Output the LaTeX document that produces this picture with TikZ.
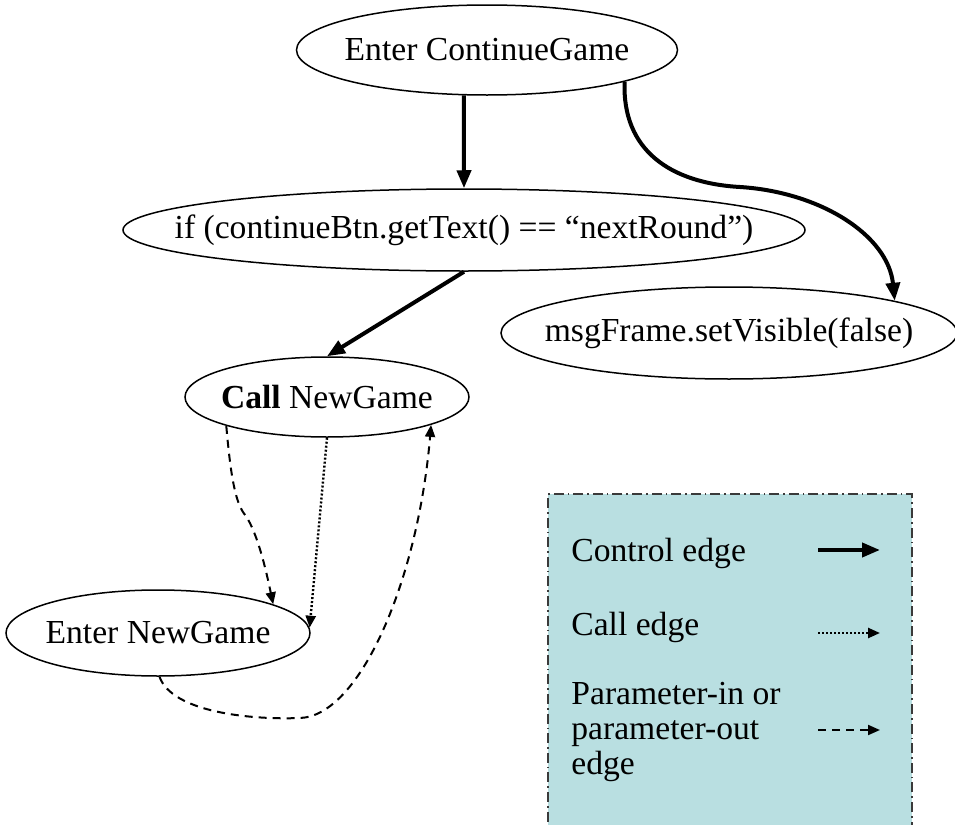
\documentclass[tikz,border=0pt]{standalone}
\usepackage{fontspec}
\setmainfont{Liberation Serif}
\usepackage{tikz}
\usetikzlibrary{shapes.geometric,arrows.meta}
\definecolor{sdgcyan}{HTML}{B9DFE1}
\definecolor{sdggray}{HTML}{3A3A3A}

\begin{document}
\begin{tikzpicture}[
  x=0.5pt, y=-0.5pt,
  every node/.style={font=\fontsize{16.8}{17.5}\selectfont},
  stmt/.style={ellipse, draw, line width=0.75pt, inner xsep=-40pt,
               inner ysep=0pt, align=center},
  legendbox/.style={draw=sdggray, fill=sdgcyan, line width=0.75pt,
                    dash pattern=on 5pt off 2pt on 0.8pt off 2pt,
                    minimum width=182pt, minimum height=173pt},
  legtext/.style={anchor=west, inner sep=0pt, align=left},
  ctrl/.style={-{Triangle[length=9pt,width=7pt]}, line width=2pt},
  callarr/.style={-{Triangle[length=6pt,width=5pt]}, line width=1.2pt,
                  dash pattern=on 1pt off 1pt},
  parm/.style={-{Triangle[length=6pt,width=5pt]}, line width=1pt,
               dash pattern=on 4pt off 3pt}
]
\useasboundingbox (0,0) rectangle (955,825);

\node[stmt, minimum width=190.5pt, minimum height=45pt] (start) at (487,50) {Enter ContinueGame};
\node[stmt, minimum width=341pt, minimum height=41pt] (cond) at (464,230) {if (continueBtn.getText() == “nextRound”)};
\node[stmt, minimum width=228pt, minimum height=46pt] (msg) at (729,333) {msgFrame.setVisible(false)};
\node[stmt, minimum width=142pt, minimum height=40pt] (call) at (327,397) {\textbf{Call} NewGame};
\node[stmt, minimum width=152pt, minimum height=43pt] (enter) at (158,633) {Enter NewGame};

% Legend
\node[legendbox] (legend) at (730,667) {};
\node[legtext] (lctrl) at (571,553) {Control edge};
\node[legtext] (lcall) at (571,627) {Call edge};
\node[legtext] (lparm) at (571,732) {Parameter-in or\\parameter-out\\edge};
\coordinate (c1s) at (818,550); \coordinate (c1e) at (880,550);
\coordinate (c2s) at (818,633); \coordinate (c2e) at (880,633);
\coordinate (c3s) at (818,730); \coordinate (c3e) at (880,730);
\draw[ctrl] (c1s) -- (c1e);
\draw[callarr] (c2s) -- (c2e);
\draw[parm] (c3s) -- (c3e);

% Control edges
\draw[ctrl] (start.243) -- (cond.north);
\draw[ctrl] (start.-13) .. controls (622,150) and (670,183) .. (740,187)
  .. controls (820,192) and (888,235) .. (msg.11);
\draw[ctrl] (cond.south) -- (call.north);

% Call and parameter edges
\draw[parm] (call.196) .. controls (231,480) and (236,505) .. (246,516)
  .. controls (258,535) and (266,570) .. (enter.14);
\draw[callarr] (call.south) -- (enter.2);
\draw[parm] (enter.-88) .. controls (172,712) and (250,720) .. (300,718)
  .. controls (360,716) and (418,580) .. (call.-15);
\end{tikzpicture}
\end{document}
